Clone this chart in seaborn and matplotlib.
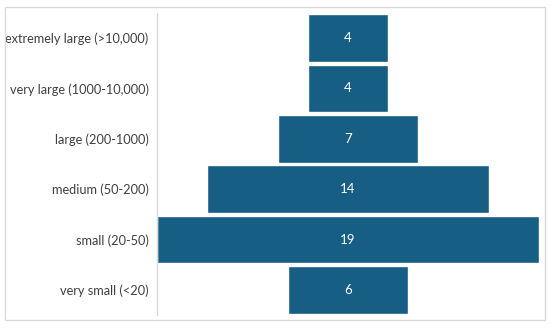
import matplotlib
matplotlib.use('Agg')
import matplotlib.pyplot as plt
import pandas as pd
import seaborn as sns
from matplotlib.patches import Rectangle

categories = ['extremely large (>10,000)', 'very large (1000-10,000)', 'large (200-1000)',
              'medium (50-200)', 'small (20-50)', 'very small (<20)']
counts = [4, 4, 7, 14, 19, 6]

df = pd.DataFrame({'category': categories, 'count': counts})

sns.set_style('white')
plt.rcParams['font.family'] = ['Lato', 'DejaVu Sans']

fig = plt.figure(figsize=(5.5, 3.28), dpi=100)
ax = fig.add_axes([157/550, 1 - 315/328, (539 - 157)/550, (315 - 13)/328])

sns.barplot(data=df, x='count', y='category', color='#165E83', saturation=1,
            width=0.95, ax=ax, orient='h')

# center every bar around zero to get the funnel shape
for p in ax.patches:
    w = p.get_width()
    p.set_x(-w / 2)
    ax.text(0, p.get_y() + p.get_height() / 2, f'{int(w)}', color='white',
            ha='center', va='center', fontsize=9.5)

m = max(counts) / 2
ax.set_xlim(-m, m)
ax.set_ylim(len(categories) - 0.5, -0.5)
ax.set_xlabel('')
ax.set_ylabel('')
ax.set_xticks([])
ax.tick_params(axis='y', length=0, pad=6, labelsize=9.2, labelcolor='#404040')
for s in ['top', 'right', 'bottom']:
    ax.spines[s].set_visible(False)
ax.spines['left'].set_color('#d9d9d9')
ax.spines['left'].set_linewidth(1)

# chart border
fig.patches.append(Rectangle((5/550, 1 - 320/328), 540/550, 313/328, transform=fig.transFigure,
                             fill=False, edgecolor='#d9d9d9', linewidth=1))

fig.savefig('out.png', dpi=100)
